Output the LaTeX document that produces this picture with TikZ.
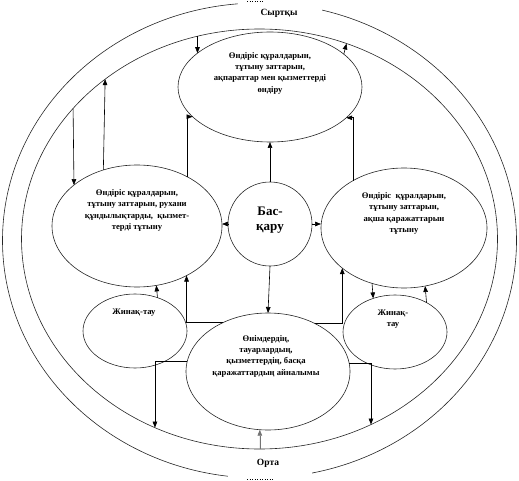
\documentclass[tikz,border=0pt]{standalone}
\usepackage{fontspec}
\setmainfont{Liberation Serif}
\usetikzlibrary{shapes.geometric,arrows.meta,calc}
\begin{document}
\begin{tikzpicture}[x=1pt,y=-1pt,
 ell/.style={ellipse,draw=black!85,line width=0.6pt,inner sep=0pt,outer sep=0pt},
 txt/.style={font=\bfseries\fontsize{8.6}{11.3}\selectfont,align=center,inner sep=0pt},
 big/.style={font=\bfseries\fontsize{13}{15}\selectfont,align=center,inner sep=0pt},
 lbl/.style={font=\bfseries\fontsize{9.5}{11}\selectfont,inner sep=0pt},
 arr/.style={line width=0.6pt,-{Triangle[length=6pt,width=4.6pt]}},
 ]
\useasboundingbox (0,0) rectangle (519,481);
% environment ellipses
\node[ell,minimum width=514pt,minimum height=475pt] (outer) at (259.5,240.5) {};
\node[ell,minimum width=476pt,minimum height=420pt] (inner) at (259.5,239) {};
\fill[white] (238,0) rectangle (322,22);
\fill[white] (228,455) rectangle (312,481);
\draw[dotted,line width=0.5pt] (247,1) -- (263,1);
\draw[dotted,line width=0.5pt] (247,479.5) -- (273,479.5);
\node[lbl] (ext) at (279,13) {Сыртқы};
\node[lbl] (env) at (268,463) {Орта};
% main ellipses
\node[ell,minimum width=184pt,minimum height=110pt] (T) at (270,87) {};
\node[ell,minimum width=170pt,minimum height=122pt] (L) at (137,226) {};
\node[ell,minimum width=84pt,minimum height=84pt] (C) at (270,224) {};
\node[ell,minimum width=166pt,minimum height=120pt] (R) at (404,228) {};
\node[ell,minimum width=104pt,minimum height=74pt] (BL) at (135,331) {};
\node[ell,minimum width=104pt,minimum height=74pt] (BR) at (395,332) {};
\node[ell,minimum width=164pt,minimum height=117pt] (B) at (268,371.5) {};
% texts
\node[txt] (Tt) at (270,73) {Өндіріс құралдарын,\\тұтыну заттарын,\\ақпараттар мен қызметтерді\\өндіру};
\node[txt] (Lt) at (137,210.5) {Өндіріс құралдарын,\\тұтыну заттарын, рухани\\құндылықтарды,\ \ қызмет-\\терді тұтыну};
\node[big] (Ct) at (270,220) {Бас-\\қару};
\node[txt] (Rt) at (404,213.5) {Өндіріс\ \ құралдарын,\\тұтыну заттарын,\\ақша қаражаттарын\\тұтыну};
\node[txt] (BLt) at (134,313) {Жинақ-тау};
\node[txt] (BRt) at (393,319) {Жинақ-\\тау};
\node[txt] (Bt) at (266,356) {Өнімдердің,\\тауарлардың,\\қызметтердің, басқа\\қаражаттардың айналымы};
% connectors
\draw[arr] (inner.107.13) -- (T.155.35);
\draw[arr] (T.24.65) -- (inner.66.99);
\draw[arr] (inner.145.04) -- (L.147.93);
\draw[arr] (L.121.26) -- (inner.134.69);
\draw[arr] (L.44.6) |- (T.201.26);
\draw[arr] (R.137.16) |- (T.338.74);
\draw[arr] (C.north) -- (T.south);
\draw[arr] (C.west) -- (C.west -| L.east);
\draw[arr] (C.east) -- (C.east -| R.west);
\draw[arr] (C.south) -- (B.north);
\draw[arr] (B.133.5) -| (L.315.4);
\draw[arr] (B.46.5) -| (R.213.71);
\draw[arr] (BL.56.7) -- (L.288.64);
\draw[arr] (R.240.9) -- (BR.123.3);
\draw[arr] (BR.43.8) -- (R.290.8);
\draw[arr] (B.173.3) -| (inner.241.29);
\draw[arr] (B.6.7) -| (inner.301.6);
\draw[arr,draw=black!55,fill=black!55] (B.262.2 |- inner.south) -- (B.262.2);
\end{tikzpicture}
\end{document}
